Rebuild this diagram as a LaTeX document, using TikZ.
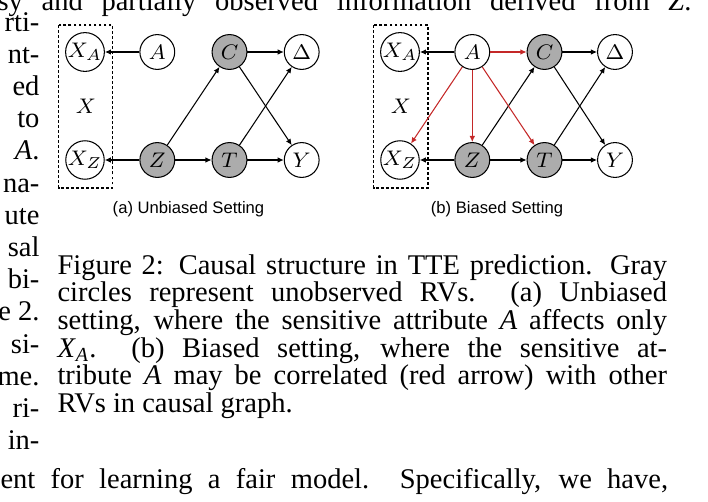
\documentclass[tikz,border=0pt]{standalone}
\usepackage{fontspec}
\setmainfont{Liberation Serif}
\newfontfamily\subfont{Liberation Sans}
\usetikzlibrary{arrows.meta}
\definecolor{hidgray}{RGB}{172,172,172}
\definecolor{corrred}{RGB}{196,40,40}

\begin{document}
\begin{tikzpicture}[x=0.379pt, y=-0.379pt,
	every node/.style={font=\fontsize{10.8}{12}\selectfont},
	>={Latex[length=2.3pt,width=2.1pt]},
	var/.style={circle, draw, line width=0.4pt, minimum size=13.2pt, inner sep=0pt, font=\fontsize{8.4}{10}\selectfont},
	hid/.style={var, fill=hidgray},
	edge/.style={->, line width=0.4pt},
	redge/.style={edge, draw=corrred},
	obsbox/.style={draw, dash pattern=on 1.1pt off 0.8pt, line width=0.45pt},
	subcap/.style={font=\subfont\fontsize{6.3}{7}\selectfont},
	body/.style={anchor=base west, inner sep=0pt},
	frag/.style={anchor=base east, inner sep=0pt}]
	\useasboundingbox (0,0) rectangle (708,501);
	\clip (0,0) rectangle (708,501);
	% running text round the figure
	\node[body] (top) at (-3,10) {\makebox[263pt][s]{sy and partially observed information derived from \textit{Z}.}};
	\foreach \w [count=\i from 0] in {rti-, nt-, ed, to, \textit{A}., na-, ute, sal, bi-, e 2., si-, me., ri-, in-}
		\node[frag] (frag\i) at (40,31+32.2*\i) {\w};
	\node[body] (bottom) at (0,488) {\makebox[253pt][s]{ent for learning a fair model.\ \ Specifically, we have,}};
	% (a) unbiased setting
	\begin{scope}
		\draw[obsbox] (58.5,25) rectangle (112.5,188);
		\node (xlab1) at (86,106) {\fontsize{8.4}{10}\selectfont$X$};
		\node[var] (xa1) at (85,52) {$X_A$};
		\node[var] (a1) at (157.3,52) {$A$};
		\node[hid] (c1) at (229.5,52) {$C$};
		\node[var] (d1) at (301.7,52) {$\Delta$};
		\node[var] (xz1) at (85,160) {$X_Z$};
		\node[hid] (z1) at (157.3,160) {$Z$};
		\node[hid] (t1) at (229.5,160) {$T$};
		\node[var] (y1) at (301.7,160) {$Y$};
		\draw[edge] (a1) -- (xa1);
		\draw[edge] (z1) -- (xz1);
		\draw[edge] (z1) -- (c1);
		\draw[edge] (z1) -- (t1);
		\draw[edge] (c1) -- (d1);
		\draw[edge] (c1) -- (y1);
		\draw[edge] (t1) -- (d1);
		\draw[edge] (t1) -- (y1);
		\node[subcap] (sub1) at (188.5,209) {(a) Unbiased Setting};
	\end{scope}
	% (b) biased setting
	\begin{scope}[xshift=315*0.379pt]
		\draw[obsbox] (58.5,25) rectangle (113,188);
		\node (xlab2) at (86,106) {\fontsize{8.4}{10}\selectfont$X$};
		\node[var] (xa2) at (85,52) {$X_A$};
		\node[var] (a2) at (157.3,52) {$A$};
		\node[hid] (c2) at (229.5,52) {$C$};
		\node[var] (d2) at (300,52) {$\Delta$};
		\node[var] (xz2) at (85,160) {$X_Z$};
		\node[hid] (z2) at (157.3,160) {$Z$};
		\node[hid] (t2) at (229.5,160) {$T$};
		\node[var] (y2) at (300,160) {$Y$};
		\draw[edge] (a2) -- (xa2);
		\draw[edge] (z2) -- (xz2);
		\draw[edge] (z2) -- (c2);
		\draw[edge] (z2) -- (t2);
		\draw[edge] (c2) -- (d2);
		\draw[edge] (c2) -- (y2);
		\draw[edge] (t2) -- (d2);
		\draw[edge] (t2) -- (y2);
		\draw[redge] (a2) -- (c2);
		\draw[redge] (a2) -- (z2);
		\draw[redge] (a2) -- (xz2);
		\draw[redge] (a2) -- (t2);
		\node[subcap] (sub2) at (182,209) {(b) Biased Setting};
	\end{scope}
	% caption
	\node[body] (cap1) at (57,274) {\makebox[231pt][s]{Figure 2: Causal structure in TTE prediction. Gray}};
	\node[body] (cap2) at (57,301.7) {\makebox[231pt][s]{circles represent unobserved RVs.\ \ (a) Unbiased}};
	\node[body] (cap3) at (57,329.4) {\makebox[231pt][s]{setting, where the sensitive attribute \textit{A} affects only}};
	\node[body] (cap4) at (57,357.1) {\makebox[231pt][s]{\textit{X}\textsubscript{\textit{A}}.\ \ (b) Biased setting, where the sensitive at-}};
	\node[body] (cap5) at (57,384.8) {\makebox[231pt][s]{tribute \textit{A} may be correlated (red arrow) with other}};
	\node[body] (cap6) at (57,412.5) {RVs in causal graph.};
\end{tikzpicture}
\end{document}
